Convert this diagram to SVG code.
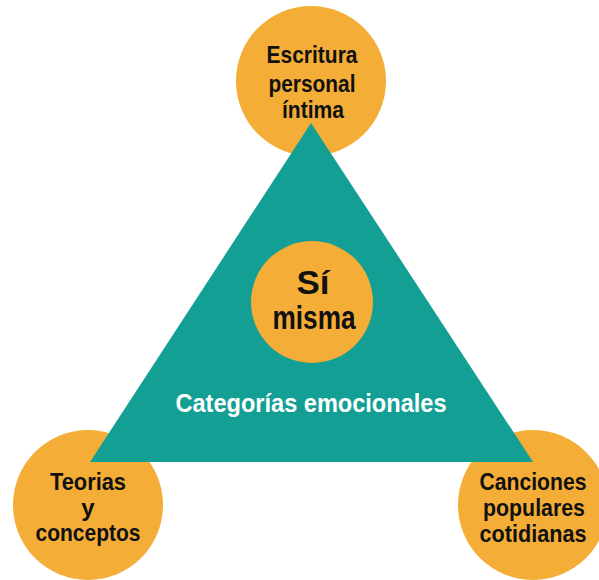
<svg xmlns="http://www.w3.org/2000/svg" width="599" height="580" viewBox="0 0 599 580">
<style>
.c{fill:#F4AD36}
.t{font-family:"Liberation Sans",Arial,sans-serif;font-weight:bold;fill:#111;text-anchor:middle;font-size:24px}
.w{fill:#fff;font-size:25px}
.b{font-size:33px}
</style>
<rect width="599" height="580" fill="#fff"/>
<g id="top"><circle class="c" cx="311" cy="81" r="75"/>
<text class="t" x="312" y="63" textLength="91" lengthAdjust="spacingAndGlyphs">Escritura</text>
<text class="t" x="312" y="92" textLength="87" lengthAdjust="spacingAndGlyphs">personal</text>
<text class="t" x="313" y="118" textLength="62" lengthAdjust="spacingAndGlyphs">íntima</text></g>
<g id="left"><circle class="c" cx="88" cy="505" r="75"/>
<text class="t" x="88" y="490" textLength="76" lengthAdjust="spacingAndGlyphs">Teorias</text>
<text class="t" x="88" y="516">y</text>
<text class="t" x="88" y="541" textLength="105" lengthAdjust="spacingAndGlyphs">conceptos</text></g>
<g id="right"><circle class="c" cx="533" cy="505" r="75"/>
<text class="t" x="533" y="490" textLength="107" lengthAdjust="spacingAndGlyphs">Canciones</text>
<text class="t" x="534" y="516" textLength="102" lengthAdjust="spacingAndGlyphs">populares</text>
<text class="t" x="533" y="542" textLength="107" lengthAdjust="spacingAndGlyphs">cotidianas</text></g>
<g id="triangle"><polygon points="311,123 90,462 533,462" fill="#139F94"/>
<text class="t w" x="311" y="412" textLength="271" lengthAdjust="spacingAndGlyphs">Categorías emocionales</text></g>
<g id="center"><circle class="c" cx="312" cy="302" r="61"/>
<text class="t b" x="313" y="294" textLength="33" lengthAdjust="spacingAndGlyphs">Sí</text>
<text class="t b" x="314" y="329" textLength="83" lengthAdjust="spacingAndGlyphs">misma</text></g>
<g id="connectors"></g>
</svg>
